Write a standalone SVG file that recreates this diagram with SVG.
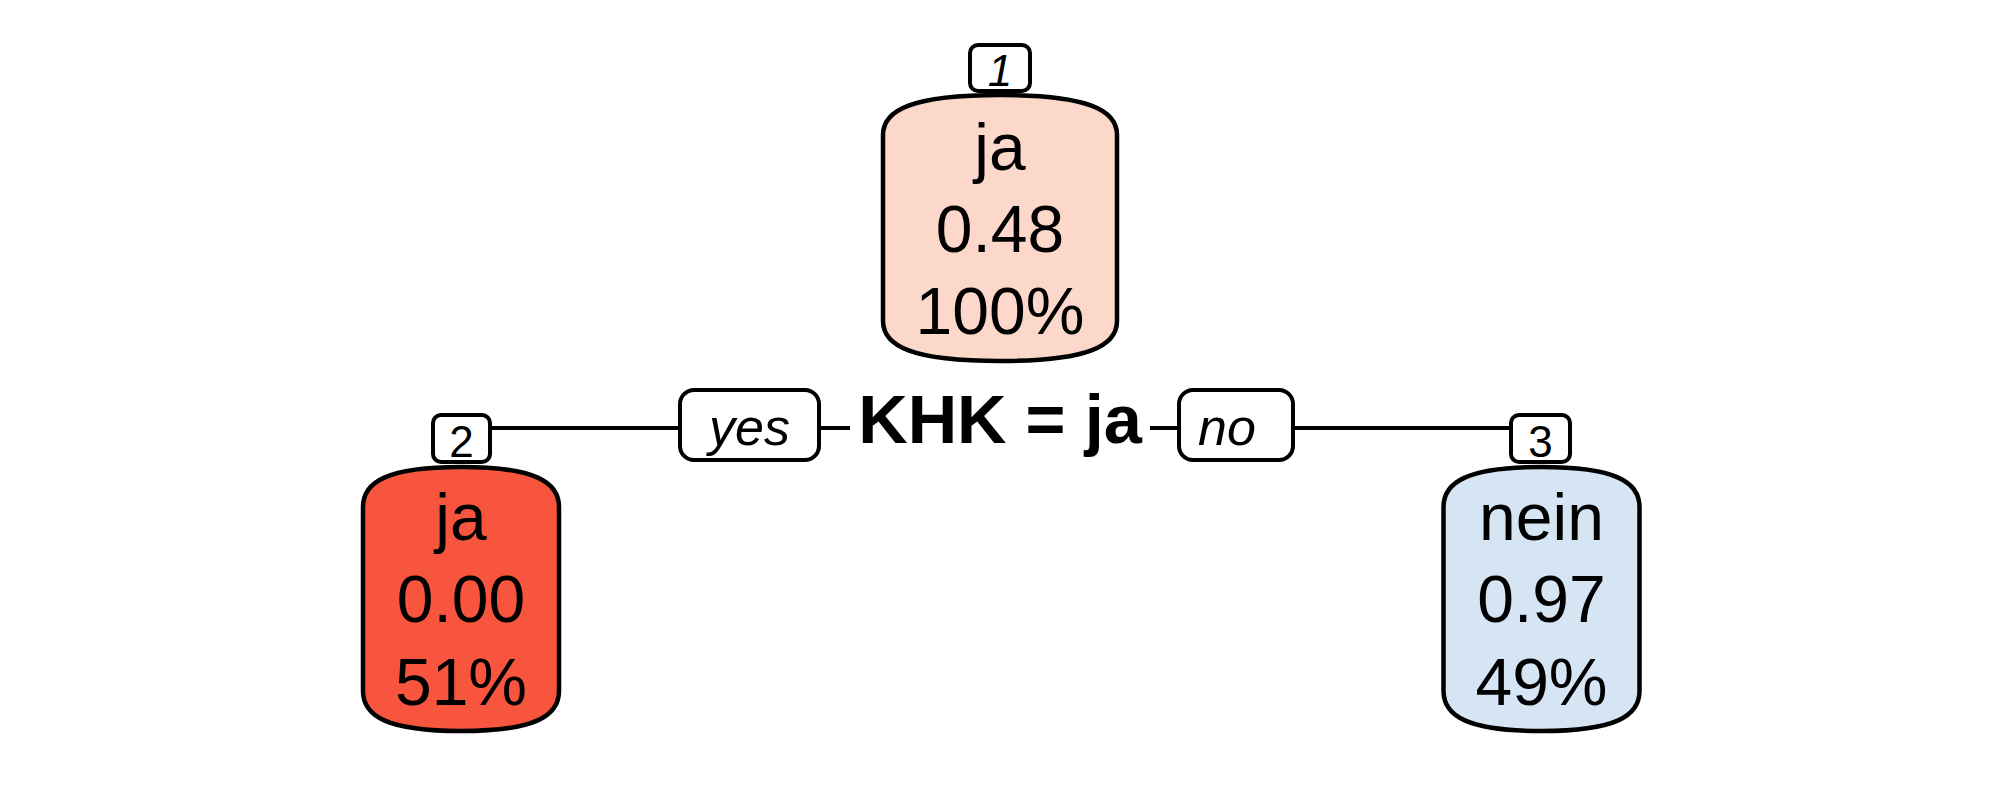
<svg xmlns="http://www.w3.org/2000/svg" width="2000" height="800" viewBox="0 0 2000 800">
  <style>
    .node { stroke: #000; stroke-width: 4.5; stroke-linejoin: round; }
    .lbl { fill: #fff; stroke: #000; stroke-width: 4; }
    .conn { stroke: #000; stroke-width: 4; fill: none; }
    .t { font-family: "Liberation Sans", Arial, sans-serif; font-size: 66px; text-anchor: middle; fill: #000; }
    .num { font-family: "Liberation Sans", Arial, sans-serif; font-size: 44px; text-anchor: middle; fill: #000; }
    .yn { font-family: "Liberation Sans", Arial, sans-serif; font-size: 52px; font-style: italic; text-anchor: middle; fill: #000; }
    .split { font-family: "Liberation Sans", Arial, sans-serif; font-size: 68.5px; font-weight: bold; text-anchor: middle; fill: #000; }
  </style>
  <rect width="2000" height="800" fill="#fff"/>

  <g id="connectors">
    <line class="conn" x1="490" y1="428" x2="680" y2="428"/>
    <line class="conn" x1="819" y1="428" x2="850" y2="428"/>
    <line class="conn" x1="1150" y1="428" x2="1179" y2="428"/>
    <line class="conn" x1="1293" y1="428" x2="1511" y2="428"/>
    <rect class="lbl" x="680" y="390" width="139" height="70" rx="14"/>
    <text class="yn" x="749.5" y="445">yes</text>
    <rect class="lbl" x="1179" y="390" width="114" height="70" rx="14"/>
    <text class="yn" x="1227" y="445">no</text>
    <text class="split" x="1000" y="443">KHK = ja</text>
  </g>

  <g id="node1">
    <path class="node" fill="#FCD8CA" d="M883,135 C883,110 912,95 1000,95 C1088,95 1117,110 1117,135 V321 C1117,346 1088,361 1000,361 C912,361 883,346 883,321 Z"/>
    <text class="t" x="1000" y="170">ja</text>
    <text class="t" x="1000" y="252">0.48</text>
    <text class="t" x="1000" y="334">100%</text>
    <rect class="lbl" x="970" y="45" width="60" height="46" rx="8"/>
    <text class="num" x="1000" y="86" font-style="italic">1</text>
  </g>

  <g id="node2">
    <path class="node" fill="#F7553D" d="M363,507 C363,482 387,467 461,467 C535,467 559,482 559,507 V691 C559,716 535,731 461,731 C387,731 363,716 363,691 Z"/>
    <text class="t" x="461" y="540">ja</text>
    <text class="t" x="461" y="622">0.00</text>
    <text class="t" x="461" y="705">51%</text>
    <rect class="lbl" x="433" y="415" width="57" height="47" rx="8"/>
    <text class="num" x="461.5" y="457">2</text>
  </g>

  <g id="node3">
    <path class="node" fill="#D5E5F4" d="M1443.5,507 C1443.5,482 1467.5,467 1541.5,467 C1615.5,467 1639.5,482 1639.5,507 V691 C1639.5,716 1615.5,731 1541.5,731 C1467.5,731 1443.5,716 1443.5,691 Z"/>
    <text class="t" x="1541.5" y="540">nein</text>
    <text class="t" x="1541.5" y="622">0.97</text>
    <text class="t" x="1541.5" y="705">49%</text>
    <rect class="lbl" x="1511" y="415" width="59" height="47" rx="8"/>
    <text class="num" x="1540.5" y="457">3</text>
  </g>
</svg>
